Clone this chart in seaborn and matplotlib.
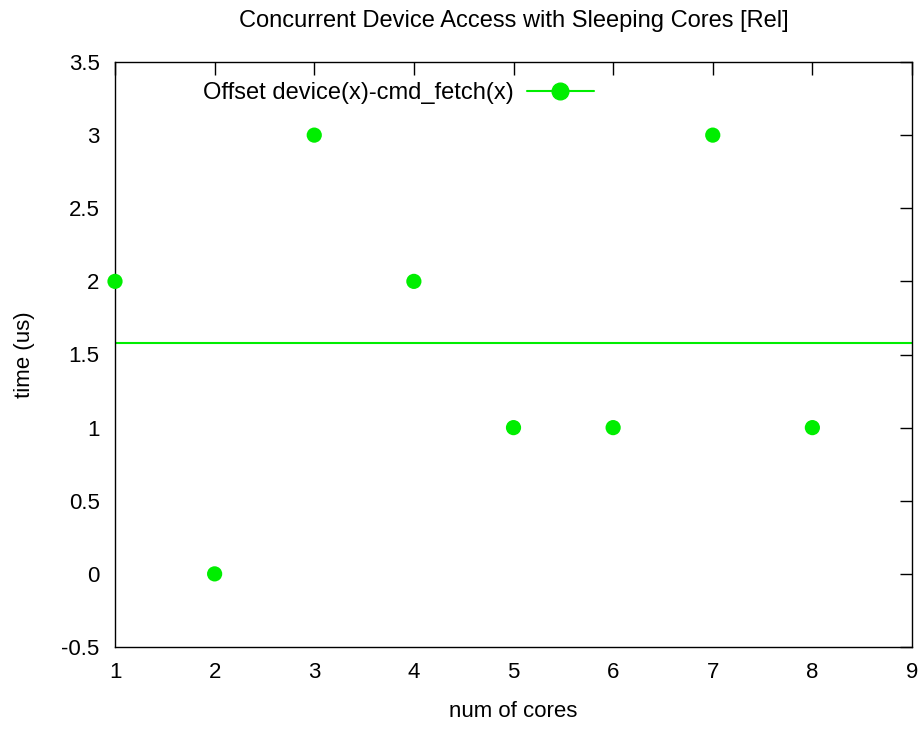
import matplotlib
matplotlib.use("Agg")
import matplotlib.pyplot as plt
import seaborn as sns
import pandas as pd

# data
cores = [1, 2, 3, 4, 5, 6, 7, 8]
offset_us = [2, 0, 3, 2, 1, 1, 3, 1]
mean_line = 1.58

sns.set_theme(style="white")
plt.rcParams['font.family'] = ['Liberation Sans', 'DejaVu Sans']
plt.rcParams['text.color'] = 'black'
plt.rcParams['axes.labelcolor'] = 'black'

GREEN = "#00ee00"
FS = 16

df = pd.DataFrame({"cores": cores, "offset": offset_us})

fig = plt.figure(figsize=(9.22, 7.34), dpi=100)
ax = fig.add_axes([115 / 922, 1 - 647 / 734, (912 - 115) / 922, (647 - 62) / 734])

sns.scatterplot(data=df, x="cores", y="offset", ax=ax, color=GREEN, s=120,
                edgecolor="none", legend=False, zorder=3, clip_on=False)
ax.axhline(mean_line, color=GREEN, linewidth=1.5, zorder=2)

ax.set_xlim(1, 9)
ax.set_ylim(-0.5, 3.5)
ax.set_xticks(range(1, 10))
ax.set_yticks([-0.5, 0, 0.5, 1, 1.5, 2, 2.5, 3, 3.5])
ax.set_yticklabels(["-0.5", "0", "0.5", "1", "1.5", "2", "2.5", "3", "3.5"])
ax.tick_params(direction="in", length=9, width=1, top=True, right=True,
               labelsize=FS, pad=11, colors="black")
for sp in ax.spines.values():
    sp.set_color("black")
    sp.set_linewidth(1)

ax.set_xlabel("num of cores", fontsize=FS, labelpad=13)
ax.set_ylabel("time (us)", fontsize=FS, labelpad=19)
ax.set_title("Concurrent Device Access with Sleeping Cores [Rel]", fontsize=17, pad=25)

# legend entry like gnuplot's: line with marker
h = plt.Line2D([], [], color=GREEN, linewidth=1.5, marker="o", markersize=12,
               markeredgecolor=GREEN)
leg = ax.legend([h], ["Offset device(x)-cmd_fetch(x)"], loc="upper left",
                bbox_to_anchor=(0.085, 1.0), frameon=False, fontsize=17,
                markerfirst=False, handlelength=2.85, handletextpad=0.55,
                borderaxespad=0.45)

fig.savefig("out.png", dpi=100)
